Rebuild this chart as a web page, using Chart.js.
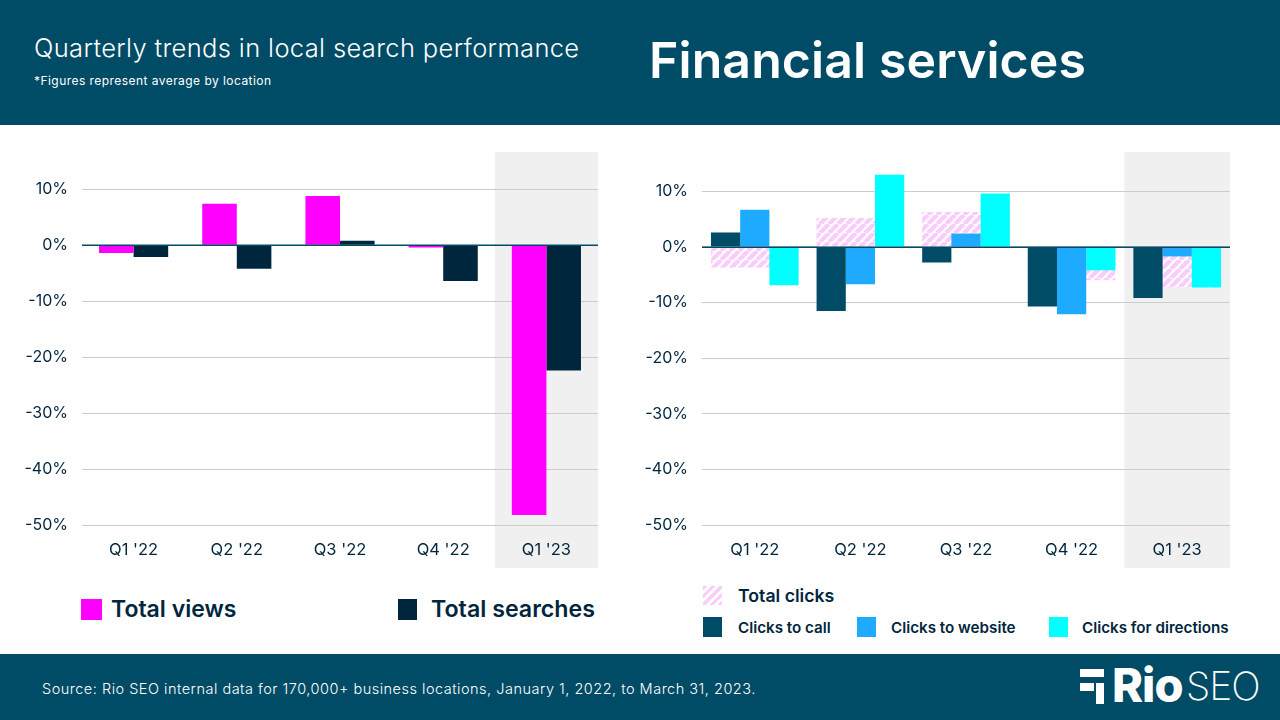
<!DOCTYPE html>
<html>
<head>
<meta charset="utf-8">
<script src="https://cdn.jsdelivr.net/npm/chart.js@4"></script>
<style>
  body { margin: 0; width: 1280px; height: 720px; position: relative; overflow: hidden; background: #fff; font-family: Inter, sans-serif; color: #00263e; }
  .band { position: absolute; left: 0; width: 1280px; background: #004c66; }
  .txt { position: absolute; white-space: nowrap; }
  .white { color: #fff; }
  canvas { position: absolute; }
  .sw { position: absolute; }
  .leg { position: absolute; white-space: nowrap; font-weight: 600; }
</style>
</head>
<body>
<div class="band" style="top:0;height:125px"></div>
<div class="band" style="top:654px;height:66px"></div>
<div class="txt white" style="left:34px;top:32px;font-size:25.5px;font-weight:300;letter-spacing:0.36px">Quarterly trends in local search performance</div>
<div class="txt white" style="left:34px;top:73px;font-size:12px;font-weight:400;letter-spacing:0.45px">*Figures represent average by location</div>
<div class="txt white" style="left:649px;top:30px;font-size:50px;font-weight:600;letter-spacing:0.1px">Financial services</div>
<div class="txt white" style="left:42px;top:680px;font-size:14.5px;font-weight:300;letter-spacing:0.5px">Source: Rio SEO internal data for 170,000+ business locations, January 1, 2022, to March 31, 2023.</div>

<svg style="position:absolute;left:1080px;top:669px" width="26" height="36" fill="#fff">
  <rect x="0" y="0" width="24" height="8"/>
  <rect x="0" y="14" width="14" height="8"/>
  <rect x="16" y="14" width="8" height="21"/>
</svg>
<div class="txt white" style="left:1112px;top:656px;font-size:47px;font-weight:800;letter-spacing:-1px">Rio</div>
<div class="txt white" style="left:1186px;top:662px;font-size:39px;font-weight:200;letter-spacing:-1px">SEO</div>

<canvas id="viewsChart" width="578" height="416" style="left:20px;top:152px"></canvas>
<canvas id="clicksChart" width="590" height="416" style="left:640px;top:152px"></canvas>

<div class="sw" style="left:81px;top:599px;width:21px;height:21px;background:#ff00ff"></div>
<div class="leg" style="left:111px;top:595px;font-size:23px" id="legViews"></div>
<div class="sw" style="left:398px;top:599px;width:19px;height:21px;background:#00263e"></div>
<div class="leg" style="left:431px;top:595px;font-size:23.2px" id="legSearches"></div>

<div class="sw" style="left:703px;top:586px;width:19px;height:19px;background:repeating-linear-gradient(135deg,#f9ccfb 0 3px,#fff 3px 6px)"></div>
<div class="leg" style="left:738px;top:585px;font-size:17.7px" id="legTotal"></div>
<div class="sw" style="left:703px;top:617px;width:19px;height:20px;background:#004c66"></div>
<div class="leg" style="left:738px;top:618px;font-size:15.2px" id="legCall"></div>
<div class="sw" style="left:857px;top:617px;width:19px;height:20px;background:#1eaaff"></div>
<div class="leg" style="left:891px;top:618px;font-size:15.2px" id="legWeb"></div>
<div class="sw" style="left:1049px;top:617px;width:19px;height:20px;background:#00ffff"></div>
<div class="leg" style="left:1082px;top:618px;font-size:15.2px" id="legDir"></div>

<script>
const quarters = ["Q1 '22", "Q2 '22", "Q3 '22", "Q4 '22", "Q1 '23"];
const yTicks = [10, 0, -10, -20, -30, -40, -50];

const totalViews = [-1.4, 7.4, 8.8, -0.4, -48.2];
const totalSearches = [-2.1, -4.2, 0.8, -6.4, -22.4];

const totalClicks = [-3.7, 5.2, 6.3, -6.0, -7.3];
const clicksToCall = [2.6, -11.5, -2.8, -10.7, -9.2];
const clicksToWebsite = [6.7, -6.7, 2.4, -12.1, -1.7];
const clicksForDirections = [-6.9, 13.0, 9.6, -4.2, -7.3];

const NAVY = '#00263e';
const TEAL = '#004c66';

document.getElementById('legViews').textContent = 'Total views';
document.getElementById('legSearches').textContent = 'Total searches';
document.getElementById('legTotal').textContent = 'Total clicks';
document.getElementById('legCall').textContent = 'Clicks to call';
document.getElementById('legWeb').textContent = 'Clicks to website';
document.getElementById('legDir').textContent = 'Clicks for directions';

// diagonal stripes for the total clicks bars
function makeHatch() {
  const size = 9;
  const c = document.createElement('canvas');
  c.width = size;
  c.height = size;
  const g = c.getContext('2d');
  g.fillStyle = '#fff';
  g.fillRect(0, 0, size, size);
  g.strokeStyle = '#f9ccfb';
  g.lineWidth = 4.4;
  for (let i = -size; i <= size * 2; i += size) {
    g.beginPath();
    g.moveTo(i, size);
    g.lineTo(i + size, 0);
    g.stroke();
  }
  return g.createPattern(c, 'repeat');
}

// grey column behind the latest quarter, running down behind its tick label
const highlightLast = {
  id: 'highlightLast',
  beforeDraw(chart) {
    const { ctx, scales, height } = chart;
    const x = scales.x;
    const half = (x.getPixelForValue(1) - x.getPixelForValue(0)) / 2;
    const mid = x.getPixelForValue(quarters.length - 1);
    ctx.save();
    ctx.fillStyle = '#f0f0f0';
    ctx.fillRect(mid - half, 0, half * 2, height);
    ctx.restore();
  }
};

// zero line sits on top of the bars
const zeroLine = {
  id: 'zeroLine',
  afterDatasetsDraw(chart) {
    const { ctx, scales, chartArea } = chart;
    const y = Math.round(scales.y.getPixelForValue(0)) + 0.25;
    ctx.save();
    ctx.strokeStyle = TEAL;
    ctx.lineWidth = 1.5;
    ctx.beginPath();
    ctx.moveTo(chartArea.left, y);
    ctx.lineTo(chartArea.right, y);
    ctx.stroke();
    ctx.restore();
  }
};

function baseOptions(yMax, axisHeight) {
  return {
    responsive: false,
    animation: false,
    devicePixelRatio: 1,
    layout: { padding: 0 },
    plugins: { legend: { display: false }, tooltip: { enabled: false } },
    scales: {
      x: {
        grid: { display: false },
        border: { display: false },
        ticks: { color: NAVY, font: { family: 'Inter', size: 16.5 }, padding: 7, maxRotation: 0 },
        afterFit(scale) { scale.height = axisHeight; }
      },
      y: {
        min: -50,
        max: yMax,
        stacked: false,
        grid: { color: '#cccccc', lineWidth: 1, drawTicks: false },
        border: { display: false },
        ticks: {
          stepSize: 10,
          includeBounds: false,
          color: NAVY,
          font: { family: 'Inter', size: 16 },
          padding: 14,
          callback: v => yTicks.includes(v) ? v + '%' : ''
        },
        afterFit(scale) {
          scale.width = 62;
          scale.paddingTop = 0;
          scale.paddingBottom = 0;
        }
      }
    }
  };
}

new Chart(document.getElementById('viewsChart').getContext('2d'), {
  type: 'bar',
  data: {
    labels: quarters,
    datasets: [
      { label: 'Total views', data: totalViews, backgroundColor: '#ff00ff', categoryPercentage: 0.67, barPercentage: 1 },
      { label: 'Total searches', data: totalSearches, backgroundColor: NAVY, categoryPercentage: 0.67, barPercentage: 1 }
    ]
  },
  options: baseOptions(16.66, 43),
  plugins: [highlightLast, zeroLine]
});

// total clicks shares the middle slot and is three slots wide, so it sits behind the whole group
new Chart(document.getElementById('clicksChart').getContext('2d'), {
  type: 'bar',
  data: {
    labels: quarters,
    datasets: [
      { label: 'Clicks to call', data: clicksToCall, stack: 'call', backgroundColor: TEAL, order: 1, categoryPercentage: 0.83, barPercentage: 1 },
      { label: 'Clicks to website', data: clicksToWebsite, stack: 'web', backgroundColor: '#1eaaff', order: 1, categoryPercentage: 0.83, barPercentage: 1 },
      { label: 'Clicks for directions', data: clicksForDirections, stack: 'dir', backgroundColor: '#00ffff', order: 1, categoryPercentage: 0.83, barPercentage: 1 },
      { label: 'Total clicks', data: totalClicks, stack: 'web', backgroundColor: makeHatch(), order: 2, categoryPercentage: 0.83, barPercentage: 3 }
    ]
  },
  options: baseOptions(17.07, 43),
  plugins: [highlightLast, zeroLine]
});
</script>
</body>
</html>
